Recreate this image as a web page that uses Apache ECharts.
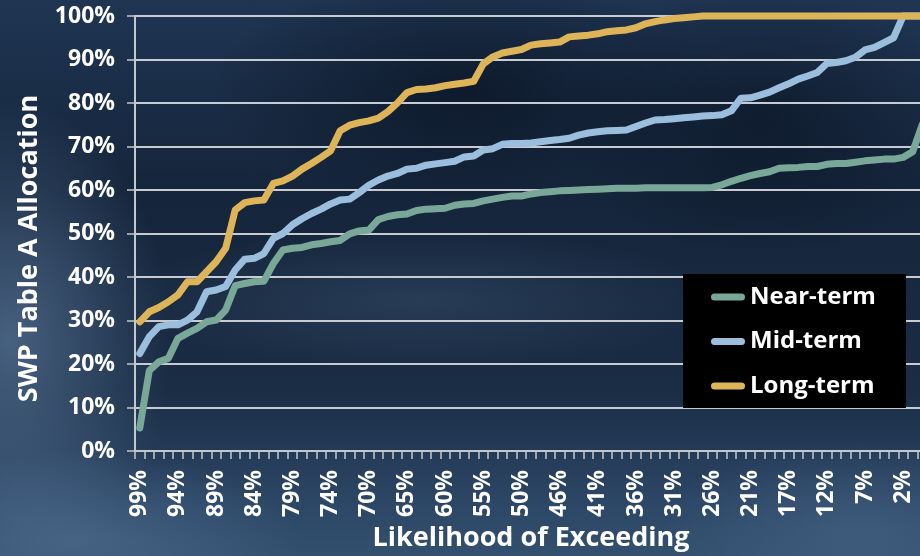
<!DOCTYPE html>
<html>
<head>
<meta charset="utf-8">
<title>SWP Table A Allocation</title>
<script src="https://cdn.jsdelivr.net/npm/echarts@6.0.0/dist/echarts.min.js"></script>
<style>
  html, body { margin: 0; padding: 0; }
  body {
    width: 920px; height: 556px; overflow: hidden;
    background:
      radial-gradient(ellipse 260px 120px at 470px 90px, rgba(4, 10, 22, 0.55), rgba(4, 10, 22, 0) 100%),
      radial-gradient(ellipse 200px 140px at 760px 120px, rgba(4, 10, 22, 0.45), rgba(4, 10, 22, 0) 100%),
      radial-gradient(ellipse 160px 240px at 10px 340px, rgba(95, 125, 160, 0.65), rgba(95, 125, 160, 0) 100%),
      radial-gradient(ellipse 220px 90px at 80px 540px, rgba(85, 115, 150, 0.55), rgba(85, 115, 150, 0) 100%),
      radial-gradient(ellipse 200px 90px at 860px 530px, rgba(80, 110, 145, 0.45), rgba(80, 110, 145, 0) 100%),
      radial-gradient(ellipse 300px 70px at 420px 300px, rgba(70, 95, 125, 0.35), rgba(70, 95, 125, 0) 100%),
      linear-gradient(180deg, #1f3552 0%, #15253b 35%, #1a2d45 70%, #2c4665 90%, #34506f 100%);
  }
  #chart { width: 920px; height: 556px; }
</style>
</head>
<body>
<div id="chart"></div>
<script>
// Exceedance-probability tick labels (one label every fourth year on the axis)
const exceedanceTicks = ['99%', '94%', '89%', '84%', '79%', '74%', '70%', '65%', '60%', '55%',
  '50%', '46%', '41%', '36%', '31%', '26%', '21%', '17%', '12%', '7%', '2%'];

// Sorted SWP Table A allocations (% of contract amount), one value per ranked year
const nearTerm = [5.3, 18.5, 20.5, 21.3, 25.9, 27.1, 28.2, 29.7, 30.1, 32.4,
  38.0, 38.5, 38.9, 39.0, 43.1, 46.2, 46.6, 46.8, 47.4, 47.7,
  48.1, 48.4, 49.9, 50.6, 50.8, 53.2, 53.9, 54.3, 54.5, 55.3,
  55.6, 55.7, 55.8, 56.5, 56.8, 56.9, 57.5, 57.9, 58.3, 58.6,
  58.6, 59.1, 59.4, 59.6, 59.8, 59.9, 60.0, 60.1, 60.2, 60.3,
  60.4, 60.4, 60.4, 60.5, 60.5, 60.5, 60.5, 60.5, 60.5, 60.5,
  60.6, 61.2, 62.0, 62.7, 63.3, 63.8, 64.2, 65.0, 65.1, 65.2,
  65.4, 65.4, 65.9, 66.1, 66.1, 66.4, 66.7, 66.9, 67.1, 67.1,
  67.5, 68.8, 75.0];

const midTerm = [22.4, 26.3, 28.6, 29.0, 29.0, 30.1, 32.0, 36.6, 37.0, 37.8,
  41.6, 44.1, 44.3, 45.4, 48.9, 50.0, 52.0, 53.4, 54.6, 55.6,
  56.8, 57.7, 57.9, 59.4, 61.1, 62.3, 63.2, 63.8, 64.8, 65.0,
  65.7, 66.0, 66.3, 66.6, 67.6, 67.8, 69.2, 69.5, 70.5, 70.7,
  70.7, 70.8, 71.1, 71.4, 71.6, 71.9, 72.6, 73.1, 73.4, 73.6,
  73.7, 73.8, 74.6, 75.4, 76.1, 76.2, 76.4, 76.6, 76.8, 77.0,
  77.1, 77.3, 78.2, 81.1, 81.2, 81.8, 82.5, 83.5, 84.4, 85.5,
  86.2, 87.0, 89.1, 89.3, 89.7, 90.5, 92.2, 92.8, 93.9, 95.0,
  100, 100, 100];

const longTerm = [29.7, 32.0, 33.0, 34.3, 35.9, 38.9, 38.9, 41.2, 43.5, 46.6,
  55.4, 57.1, 57.5, 57.7, 61.5, 62.1, 63.2, 64.8, 66.1, 67.5,
  69.0, 73.6, 74.9, 75.5, 75.9, 76.5, 78.0, 80.0, 82.4, 83.1,
  83.2, 83.5, 84.0, 84.3, 84.6, 85.0, 89.0, 90.6, 91.5, 91.9,
  92.3, 93.3, 93.6, 93.8, 94.0, 95.2, 95.4, 95.6, 95.9, 96.4,
  96.6, 96.8, 97.3, 98.2, 98.7, 99.1, 99.4, 99.6, 99.8, 100,
  100, 100, 100, 100, 100, 100, 100, 100, 100, 100,
  100, 100, 100, 100, 100, 100, 100, 100, 100, 100,
  100, 100, 100];

const seriesNames = ['Near-term', 'Mid-term', 'Long-term'];
const seriesColors = ['#7aa898', '#9bbedd', '#ddb458'];

// One category per ranked year; only every fourth one carries a label
const yearRank = nearTerm.map((_, i) => String(i));
const TICK_STEP = 4;

const FONT = '"Open Sans", "Noto Sans", sans-serif';
const AXIS_GREY = '#c3c8ce';

const chart = echarts.init(document.getElementById('chart'), null, { renderer: 'canvas' });

chart.setOption({
  backgroundColor: 'transparent',
  animation: false,
  grid: { left: 135, top: 16, right: -7, bottom: 105, outerBoundsMode: 'none' },
  graphic: [{
    type: 'rect', left: 683, top: 274, z: 50,
    shape: { width: 223, height: 134 },
    style: { fill: '#000' }
  }],
  legend: {
    z: 60,
    orient: 'vertical',
    left: 711, top: 282,
    padding: 0,
    itemWidth: 34, itemHeight: 7, itemGap: 14.5,
    icon: 'path://M3.5,0 H30.5 A3.5,3.5 0 0 1 30.5,7 H3.5 A3.5,3.5 0 0 1 3.5,0 Z',
    data: seriesNames,
    textStyle: { color: '#fff', fontFamily: FONT, fontWeight: 'bold', fontSize: 24, lineHeight: 30 }
  },
  xAxis: {
    type: 'category',
    data: yearRank,
    boundaryGap: true,
    axisLine: { lineStyle: { color: AXIS_GREY, width: 2 } },
    axisTick: { show: true, interval: 0, length: 8, lineStyle: { color: AXIS_GREY, width: 1.5 } },
    axisLabel: {
      interval: TICK_STEP - 1,
      rotate: 90,
      margin: 19,
      color: '#fff', fontFamily: FONT, fontWeight: 'bold', fontSize: 23,
      formatter: (v, idx) => exceedanceTicks[idx / TICK_STEP] || ''
    },
    splitLine: { show: false },
    name: 'Likelihood of Exceeding',
    nameLocation: 'middle',
    nameGap: 70,
    nameTextStyle: { color: '#fff', fontFamily: FONT, fontWeight: 'bold', fontSize: 27 }
  },
  yAxis: {
    type: 'value',
    min: 0, max: 100, interval: 10,
    axisLine: { show: true, lineStyle: { color: AXIS_GREY, width: 2 } },
    axisTick: { show: true, length: 8, lineStyle: { color: AXIS_GREY, width: 1.5 } },
    axisLabel: {
      formatter: '{value}%', margin: 20,
      color: '#fff', fontFamily: FONT, fontWeight: 'bold', fontSize: 23
    },
    splitLine: { lineStyle: { color: '#c8ccd2', width: 2 } },
    name: 'SWP Table A Allocation',
    nameLocation: 'middle',
    nameGap: 92,
    nameTextStyle: { color: '#fff', fontFamily: FONT, fontWeight: 'bold', fontSize: 27, padding: [0, 30, 0, 0] }
  },
  series: [nearTerm, midTerm, longTerm].map((values, k) => ({
    name: seriesNames[k],
    type: 'line',
    data: values,
    symbol: 'none',
    showSymbol: false,
    clip: false,
    lineStyle: { width: 7, color: seriesColors[k], join: 'round', cap: 'round' },
    itemStyle: { color: seriesColors[k] }
  }))
});
</script>
</body>
</html>
